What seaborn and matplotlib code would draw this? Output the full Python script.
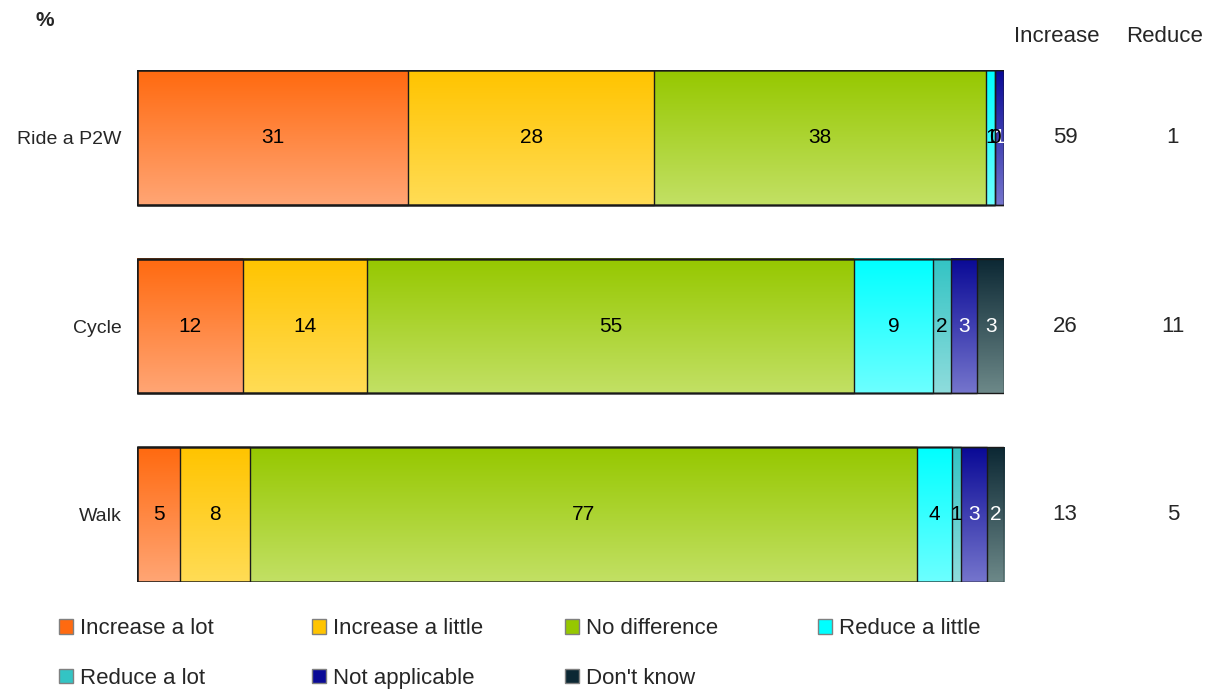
import numpy as np
import pandas as pd
import matplotlib
matplotlib.use("Agg")
import matplotlib.pyplot as plt
import seaborn as sns
from matplotlib.patches import Patch
from matplotlib.colors import to_rgb

# data
activities = ['Ride a P2W', 'Cycle', 'Walk']
categories = ['Increase a lot', 'Increase a little', 'No difference', 'Reduce a little',
              'Reduce a lot', 'Not applicable', "Don't know"]
increase_lot = [31, 12, 5]
increase_little = [28, 14, 8]
no_difference = [38, 55, 77]
reduce_little = [1, 9, 4]
reduce_lot = [0, 2, 1]
not_applicable = [1, 3, 3]
dont_know = [0, 3, 2]
increase_total = [59, 26, 13]
reduce_total = [1, 11, 5]

# gradient colours (top, bottom) per category
top_cols = ['#FF6A10', '#FFC400', '#96C800', '#00FFFF', '#33C4C4', '#0A0A96', '#0C2834']
bot_cols = ['#FFA574', '#FFDC55', '#C2E064', '#6CFFFF', '#8EDCDC', '#7474CC', '#6C8888']
label_cols = ['black', 'black', 'black', 'black', 'black', 'white', 'white']

df = pd.DataFrame({'activity': activities,
                   categories[0]: increase_lot, categories[1]: increase_little,
                   categories[2]: no_difference, categories[3]: reduce_little,
                   categories[4]: reduce_lot, categories[5]: not_applicable,
                   categories[6]: dont_know})
vals = df[categories].astype(float)
pct = vals.div(vals.sum(axis=1), axis=0) * 100   # 100% stacked
cum = pct.cumsum(axis=1)

sns.set_style('white')
plt.rcParams['font.family'] = ['Liberation Sans', 'DejaVu Sans']

fig = plt.figure(figsize=(12.1, 6.9), dpi=100)
ax = fig.add_axes([137 / 1210, 1 - 582 / 690, 867 / 1210, 512 / 690])

bar_h = 0.716
# stacked bars: draw cumulative totals from last to first
for i in range(len(categories) - 1, -1, -1):
    sns.barplot(x=cum[categories[i]], y=df['activity'], orient='h', color=top_cols[i],
                width=bar_h, saturation=1, edgecolor='#1a1a1a', linewidth=1.0, ax=ax)

# gradient fill for each segment
for r in range(len(activities)):
    for i, c in enumerate(categories):
        x1 = cum.loc[r, c]
        x0 = x1 - pct.loc[r, c]
        if x1 - x0 <= 0:
            continue
        t = np.array(to_rgb(top_cols[i]))
        b = np.array(to_rgb(bot_cols[i]))
        f = np.linspace(0, 1, 64)[:, None]
        grad = (t * (1 - f) + b * f)[:, None, :]
        ax.imshow(grad, extent=(x0, x1, r - bar_h / 2, r + bar_h / 2), origin='lower',
                  aspect='auto', interpolation='bilinear', zorder=1)

for p in ax.patches:
    p.set_facecolor('none')
    p.set_zorder(3)

# value labels (white ones under black ones)
for r in range(len(activities)):
    for i, c in enumerate(categories):
        v = vals.loc[r, c]
        if v == 0 and i != 4:
            continue
        xc = cum.loc[r, c] - pct.loc[r, c] / 2
        ax.text(xc, r, f'{int(v)}', ha='center', va='center', fontsize=15,
                color=label_cols[i], zorder=4 if label_cols[i] == 'white' else 5)

ax.set_xlim(0, 100)
ax.set_ylim(len(activities) - 1 + bar_h / 2, -bar_h / 2)
ax.set_xlabel('')
ax.set_ylabel('')
ax.set_xticks([])
ax.tick_params(axis='y', length=0, pad=11, labelsize=14)
for s in ax.spines.values():
    s.set_visible(False)

# right-hand summary columns
fig.text(1057 / 1210, 1 - 37 / 690, 'Increase', ha='center', va='center', fontsize=16)
fig.text(1165 / 1210, 1 - 37 / 690, 'Reduce', ha='center', va='center', fontsize=16)
for r in range(len(activities)):
    yy = ax.transData.transform((0, r))[1]
    yf = fig.transFigure.inverted().transform((0, yy))[1]
    fig.text(1065 / 1210, yf, str(increase_total[r]), ha='center', va='center', fontsize=16)
    fig.text(1173 / 1210, yf, str(reduce_total[r]), ha='center', va='center', fontsize=16)

fig.text(45 / 1210, 1 - 21 / 690, '%', ha='center', va='center', fontsize=15, fontweight='bold')

# legend: four evenly spaced columns, filled row by row
legend_cols = [[0, 4], [1, 5], [2, 6], [3]]
for k, idx in enumerate(legend_cols):
    handles = [Patch(facecolor=top_cols[i], edgecolor='#808080', linewidth=1.0) for i in idx]
    fig.legend(handles, [categories[i] for i in idx], loc='upper left',
               bbox_to_anchor=((50 + k * 253) / 1210, 1 - 609 / 690),
               frameon=False, fontsize=16, handlelength=0.65, handleheight=0.65,
               handletextpad=0.3, labelspacing=1.3, borderaxespad=0)

fig.savefig('out.png', dpi=100)
